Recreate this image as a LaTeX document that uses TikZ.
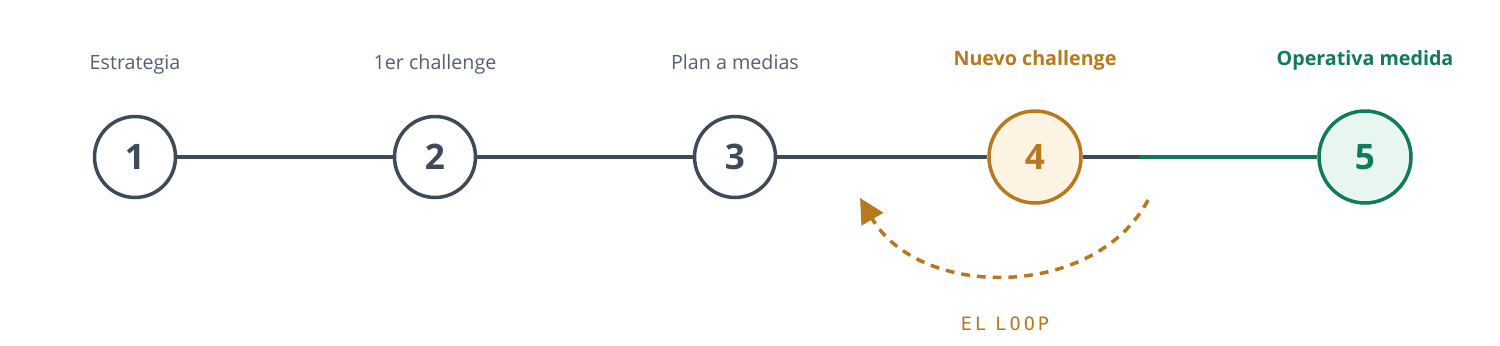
\documentclass[tikz,border=0pt]{standalone}
\usepackage{fontspec}
\setmainfont{Open Sans}
\newfontfamily\loopfont{DejaVu Sans Mono}
\usetikzlibrary{positioning, arrows.meta, calc}
\definecolor{slate}{RGB}{63, 74, 88}
\definecolor{slatetxt}{RGB}{82, 96, 112}
\definecolor{ochre}{RGB}{183, 121, 31}
\definecolor{ochrefill}{RGB}{253, 243, 227}
\definecolor{pine}{RGB}{15, 123, 90}
\definecolor{pinefill}{RGB}{232, 246, 240}

\begin{document}
\begin{tikzpicture}[x=0.02cm, y=-0.02cm, >=Triangle, line width=2pt,
      stepnode/.style={draw=slate, circle, fill=white, minimum size=1.62cm, inner sep=0pt,
        font=\fontsize{20}{20}\selectfont\bfseries, text=slate},
      hot/.style={stepnode, draw=ochre, fill=ochrefill, text=ochre, minimum size=1.84cm},
      done/.style={stepnode, draw=pine, fill=pinefill, text=pine, minimum size=1.84cm},
      lbl/.style={font=\fontsize{11.2}{13}\selectfont, text=slatetxt, anchor=base}]
    \useasboundingbox (0,0) rectangle (1500,345);
    \node[stepnode] (s1) at (135,157)  {1};
    \node[stepnode] (s2) at (435,157)  {2};
    \node[stepnode] (s3) at (735,157)  {3};
    \node[hot]      (s4) at (1035,157) {4};
    \node[done]     (s5) at (1365,157) {5};
    \coordinate (split) at (1140,157);
    % track
    \foreach \x/\y in {s1/s2, s2/s3, s3/s4} \draw[slate] (\x) -- (\y);
    \draw[slate] (s4) -- (split);
    \draw[pine] (split) -- (s5);
    % labels
    \node[lbl] (l1) at (135,69) {Estrategia};
    \node[lbl] (l2) at (435,69) {1er challenge};
    \node[lbl] (l3) at (735,69) {Plan a medias};
    \node[lbl, text=ochre, font=\fontsize{11.2}{13}\selectfont\bfseries] (l4) at (1035,65) {Nuevo challenge};
    \node[lbl, text=pine, font=\fontsize{11.2}{13}\selectfont\bfseries] (l5) at (1365,65) {Operativa medida};
    % loop back
    \coordinate (loopa) at (1148,200);
    \coordinate (loopb) at (860,198);
    \draw[ochre, dashed, dash pattern=on 5pt off 4pt, -{Triangle[length=14pt, width=14pt]}]
      (loopa) .. controls (1095,300) and (920,300) .. (loopb);
    \node[font=\loopfont\fontsize{10.5}{12}\selectfont, text=ochre, anchor=base] (loop) at (1005,330)
      {E\,L\,\,\,L\,O\,O\,P};
  \end{tikzpicture}
\end{document}
